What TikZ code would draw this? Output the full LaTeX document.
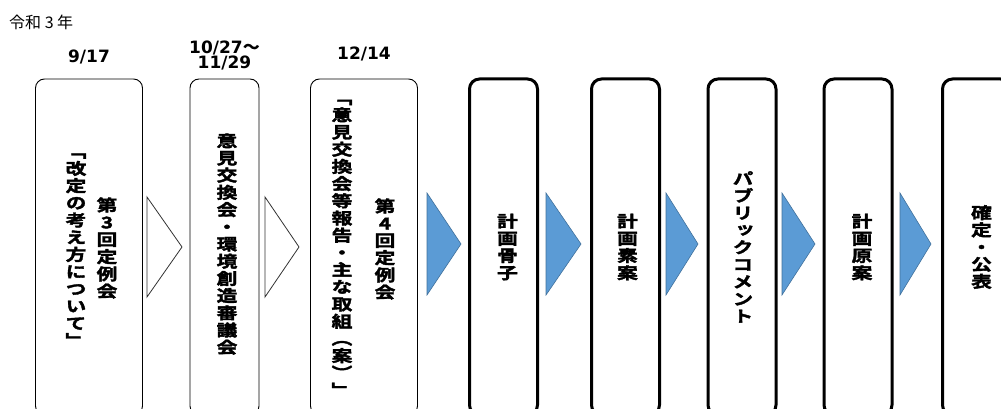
\documentclass[tikz,border=0pt]{standalone}
\usepackage{fontspec}
\usepackage{xcolor}
\usepackage{tikz}
\usetikzlibrary{positioning}
\setmainfont{DejaVu Sans}
\newfontfamily\jpfont{Noto Sans CJK JP}
\newfontfamily\tatefont[FakeStretch=1.3,FakeBold=2.2,RawFeature=+vert]{Noto Sans CJK JP Bold}
\definecolor{stepblue}{HTML}{5B9BD5}
\definecolor{stepedge}{HTML}{41719C}

\begin{document}
\begin{tikzpicture}[
        x=1pt, y=1pt,
        % cajas verticales de cada etapa
        thinbox/.style={rectangle, draw, line width=0.9pt, rounded corners=9pt, minimum height=336pt, inner sep=0pt},
        thickbox/.style={thinbox, line width=3pt, rounded corners=10pt, minimum width=68pt},
        tatecol/.style={inner sep=0pt, align=center, font=\tatefont\fontsize{16}{17.2}\selectfont},
        datum/.style={inner sep=0pt, align=center, font=\bfseries\fontsize{17}{15}\selectfont},
        opentri/.style={draw=black!80, fill=white, line width=0.8pt},
        bluetri/.style={draw=stepedge, fill=stepblue, line width=0.6pt}
    ]
        \useasboundingbox (0,0) rectangle (1001,409);
        \clip (0,0) rectangle (1001,409);

        \node [anchor=west, inner sep=0pt, font=\jpfont\fontsize{16}{16}\selectfont] (nendo) at (9,387) {令和 3 年};

        \node [thinbox, minimum width=107pt] (b1) at (89,162) {};
        \node [thinbox, minimum width=69pt] (b2) at (224.5,162) {};
        \node [thinbox, minimum width=107pt] (b3) at (364,162) {};
        \node [thickbox] (b4) at (503.5,162) {};
        \node [thickbox] (b5) at (625.5,162) {};
        \node [thickbox] (b6) at (742,162) {};
        \node [thickbox] (b7) at (858,162) {};
        \node [thickbox] (b8) at (976.5,162) {};

        \node [datum, above=14pt of b1.north] (d1) {9/17};
        \node [datum, above=8pt of b2.north] (d2) {10/27{\jpfont 〜}\\11/29};
        \node [datum, above=17pt of b3.north] (d3) {12/14};

        \node [tatecol] (b1a) at ([xshift=18pt,yshift=-1pt]b1.center) {第\\3\\回\\定\\例\\会};
        \node [tatecol] (b1b) at ([xshift=-13pt,yshift=-3pt]b1.center) {「\\改\\定\\の\\考\\え\\方\\に\\つ\\い\\て\\」};
        \node [tatecol] (b2a) at ([xshift=2.5pt,yshift=3pt]b2.center) {意\\見\\交\\換\\会\\・\\環\\境\\創\\造\\審\\議\\会};
        \node [tatecol] (b3a) at ([xshift=21pt,yshift=-2pt]b3.center) {第\\4\\回\\定\\例\\会};
        \node [tatecol] (b3b) at ([xshift=-22pt,yshift=-1pt]b3.center) {「\\意\\見\\交\\換\\会\\等\\報\\告\\・\\主\\な\\取\\組\\（\\案\\）\\」};
        \node [tatecol] (b4a) at ([xshift=4pt]b4.center) {計\\画\\骨\\子};
        \node [tatecol] (b5a) at ([xshift=2pt]b5.center) {計\\画\\素\\案};
        \node [tatecol] (b6a) at ([xshift=1pt]b6.center) {パ\\ブ\\リ\\ッ\\ク\\コ\\メ\\ン\\ト};
        \node [tatecol] (b7a) at ([xshift=4pt]b7.center) {計\\画\\原\\案};
        \node [tatecol] (b8a) at ([xshift=5pt]b8.center) {確\\定\\・\\公\\表};

        \foreach \x/\w in {147/35, 265/34}
            \draw [opentri] (\x,212) -- ++(\w,-50) -- ++(-\w,-50) -- cycle;
        \foreach \x/\w in {427/34, 546/35, 666/32, 782/33, 900/31}
            \draw [bluetri] (\x,216) -- ++(\w,-51) -- ++(-\w,-51) -- cycle;
    \end{tikzpicture}
\end{document}
